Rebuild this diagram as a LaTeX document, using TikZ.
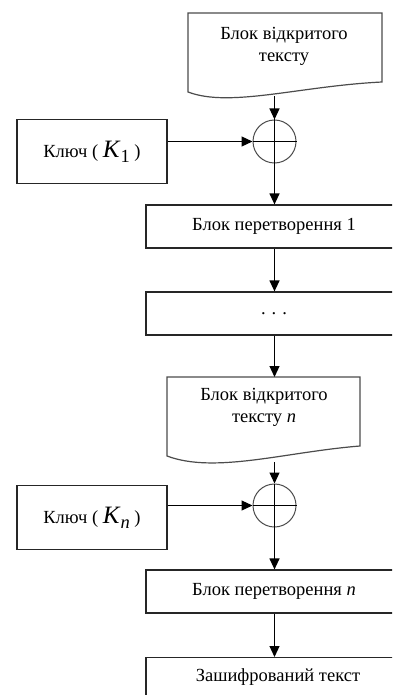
\documentclass[tikz,border=0pt]{standalone}
\usepackage{fontspec}
\setmainfont{Liberation Serif}
\usetikzlibrary{arrows.meta}

% K with a subscript, set in text italics
\newcommand{\keyK}[1]{{\fontsize{25}{25}\selectfont\textit{K}}\raisebox{-5pt}{#1}}

\tikzset{
  box/.style={draw=black!85, line width=1.2pt, minimum width=256pt, minimum height=43pt,
              inner sep=0pt, font=\fontsize{18.5}{22}\selectfont},
  keybox/.style={draw=black!85, line width=1.2pt, minimum width=150pt, minimum height=64pt,
                 inner sep=0pt, font=\fontsize{18.5}{22}\selectfont},
  xorc/.style={circle, draw=black!70, line width=1pt, minimum size=43pt, inner sep=0pt},
  docshape/.style={draw=black!70, line width=1.2pt, fill=white},
  doctext/.style={align=center, font=\fontsize{18.5}{22}\selectfont, inner sep=0pt},
  flow/.style={line width=1.2pt, -{Triangle[length=11pt,width=10pt]}},
  plain/.style={line width=1.2pt}
}

\begin{document}
\begin{tikzpicture}[x=1pt,y=-1pt]
\useasboundingbox (0,0) rectangle (392,695);
\clip (0,0) rectangle (392,695);
\fill[white] (0,0) rectangle (392,695);

% first plain-text block (document shape)
\draw[docshape] (188,92) -- (188,13) -- (382,13) -- (382,82)
  .. controls (300,86) and (230,108) .. (188,92) -- cycle;
\node[doctext] (doc1) at (284,46) {Блок відкритого\\тексту};
\coordinate (doc1b) at (274.5,96);

% first key and XOR
\node[keybox] (key1) at (92,151.5) {Ключ ( \keyK{1} )};
\node[xorc] (xor1) at (274.5,141.5) {};
\draw[plain] (xor1.north) -- (xor1.south);
\draw[plain] (xor1.west) -- (xor1.east);

% transformation blocks
\node[box] (blk1) at (274,226.5) {Блок перетворення 1};
\node[box] (dots) at (274,313.5) {.\hspace{6pt}.\hspace{6pt}.};

% n-th plain-text block (document shape)
\draw[docshape] (167,456) -- (167,377) -- (360,377) -- (360,446)
  .. controls (285,452) and (215,474) .. (167,456) -- cycle;
\node[doctext] (docn) at (264,407) {Блок відкритого\\тексту \textit{n}};
\coordinate (docnt) at (274.5,377);
\coordinate (docnb) at (274.5,462);

% n-th key and XOR
\node[keybox] (keyn) at (92,517.5) {Ключ ( \keyK{\textit{n}} )};
\node[xorc] (xorn) at (274.5,505.5) {};
\draw[plain] (xorn.north) -- (xorn.south);
\draw[plain] (xorn.west) -- (xorn.east);

\node[box] (blkn) at (274,591.5) {Блок перетворення \textit{n}};
\node[box, minimum height=44pt, anchor=north] (fin) at (274,657) {};
\node[font=\fontsize{18.5}{22}\selectfont] (fint) at (278,677) {Зашифрований текст};

% connectors
\draw[flow] (doc1b) -- (xor1.north);
\draw[flow] (key1.east |- xor1.west) -- (xor1.west);
\draw[flow] (xor1.south) -- (blk1.north -| xor1.south);
\draw[flow] (blk1.south -| xor1.south) -- (dots.north -| xor1.south);
\draw[flow] (dots.south -| xor1.south) -- (docnt);
\draw[flow] (docnb) -- (xorn.north);
\draw[flow] (keyn.east |- xorn.west) -- (xorn.west);
\draw[flow] (xorn.south) -- (blkn.north -| xorn.south);
\draw[flow] (blkn.south -| xorn.south) -- (fin.north -| xorn.south);
\end{tikzpicture}
\end{document}
